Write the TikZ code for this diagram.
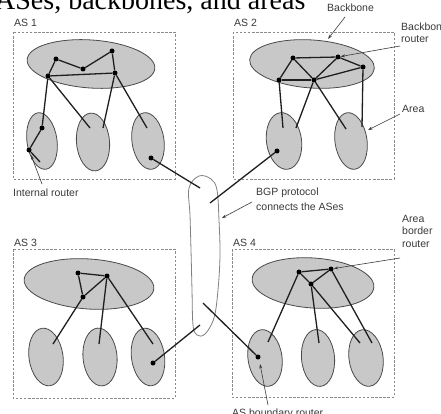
\documentclass[tikz,border=0pt]{standalone}
\usepackage{fontspec}
\setmainfont{Liberation Serif}
\setsansfont{Liberation Sans}
\usetikzlibrary{shapes.geometric,arrows.meta}
\definecolor{areagray}{HTML}{C8C8C8}
\definecolor{outl}{HTML}{4A4A4A}
\definecolor{boxgray}{HTML}{8A8A8A}
\definecolor{txtgray}{HTML}{3A3A3A}
\definecolor{cloudgray}{HTML}{808080}
\tikzset{
  asbox/.style={draw=boxgray, line width=0.7pt, dash pattern=on 2.5pt off 1.6pt},
  blob/.style={ellipse, draw=outl, fill=areagray, line width=0.8pt, inner sep=0pt},
  rtr/.style={circle, fill=black, inner sep=0pt, minimum size=5pt},
  link/.style={draw=black!88, line width=1.3pt},
  lbl/.style={font=\sffamily\fontsize{10.5}{12.5}\selectfont, text=txtgray, inner sep=0pt, align=left},
  ann/.style={draw=txtgray, line width=0.6pt, -{Stealth[length=4.5pt,width=3pt]}},
}
\begin{document}
\begin{tikzpicture}[x=1pt,y=-1pt]
\useasboundingbox (0,0) rectangle (441,414);
\clip (0,0) rectangle (441,414);
\fill[white] (0,0) rectangle (441,414);

% title (cut at top)
\node[anchor=base west, inner sep=0pt, font=\fontsize{28}{30}\selectfont] (title) at (-5,9.5) {ASes, backbones, and areas};

% ---------- BGP cloud ----------
\draw[cloudgray, fill=white, line width=0.8pt] plot[smooth cycle, tension=0.6] coordinates {
 (199,176) (211,179) (217,190) (219,220) (220,255) (218,290) (214,318) (205,334) (197,335) (193,325) (192,290) (191,250) (190,215) (189,188)};

% ---------- AS 1 ----------
\draw[asbox] (13,32) rectangle (175,179);
\node[lbl, anchor=base west] (as1) at (14,27) {AS 1};
\node[blob, minimum width=128pt, minimum height=48pt, rotate=-4] (bb1) at (91,64) {};
\node[blob, minimum width=30pt, minimum height=57pt, rotate=8] (ar11) at (42,141) {};
\node[blob, minimum width=33pt, minimum height=58pt, rotate=5] (ar12) at (93,142) {};
\node[blob, minimum width=32pt, minimum height=57pt, rotate=8] (ar13) at (148,141) {};
\node[rtr] (a1) at (56,59) {};
\node[rtr] (a2) at (112,51) {};
\node[rtr] (a3) at (83,69) {};
\node[rtr] (a4) at (48,76) {};
\node[rtr] (a5) at (115,73) {};
\node[rtr] (a6) at (42,128) {};
\node[rtr] (a7) at (29,150) {};
\node[rtr] (a8) at (151,158) {};
\coordinate (a7e) at (40,162);
\coordinate (c11) at (90,128);
\coordinate (c12) at (103,128);
\coordinate (c13) at (147,128);
\draw[link] (a1) -- (a4);
\draw[link] (a1) -- (a3);
\draw[link] (a3) -- (a2);
\draw[link] (a2) -- (a5);
\draw[link] (a4) -- (a5);
\draw[link] (a4) -- (a6);
\draw[link] (a6) -- (a7);
\draw[link] (a7) -- (a7e);
\draw[link] (a4) -- (c11);
\draw[link] (a5) -- (c12);
\draw[link] (a5) -- (c13);
\node[lbl, anchor=base west] (intr) at (13,196) {Internal router};
\coordinate (intrs) at (42,184);
\draw[ann] (intrs) -- (31,155);

% ---------- AS 2 ----------
\draw[asbox] (233,32) rectangle (394,179);
\node[lbl, anchor=base west] (as2) at (234,27) {AS 2};
\node[blob, minimum width=125pt, minimum height=48pt, rotate=-4] (bb2) at (312,64) {};
\node[blob, minimum width=35pt, minimum height=57pt, rotate=8] (ar21) at (284,141) {};
\node[blob, minimum width=32pt, minimum height=57pt, rotate=8] (ar22) at (351,141) {};
\node[rtr] (b1) at (293,58) {};
\node[rtr] (b2) at (338,57) {};
\node[rtr] (b3) at (363,67) {};
\node[rtr] (b4) at (279,80) {};
\node[rtr] (b5) at (314,80) {};
\node[rtr] (b6) at (277,151) {};
\coordinate (c21) at (283,128);
\coordinate (c22) at (296,128);
\coordinate (c23) at (346,129);
\coordinate (c24) at (362,127);
\draw[link] (b1) -- (b2);
\draw[link] (b2) -- (b3);
\draw[link] (b1) -- (b4);
\draw[link] (b1) -- (b5);
\draw[link] (b4) -- (b5);
\draw[link] (b5) -- (b2);
\draw[link] (b5) -- (b3);
\draw[link] (b4) -- (c21);
\draw[link] (b5) -- (c22);
\draw[link] (b5) -- (c23);
\draw[link] (b3) -- (c24);
\node[lbl, anchor=base west] (bbl) at (327,12) {Backbone};
\coordinate (bbls) at (345,17);
\coordinate (bblt) at (328,39);
\draw[ann] (bbls) -- (bblt);
\node[lbl, anchor=base west] (bbr) at (401,43) {Backbone\\router};
\coordinate (bbrs) at (400,46);
\draw[ann] (bbrs) -- (b2);
\node[lbl, anchor=base west] (arl) at (402,113) {Area};
\coordinate (arls) at (400,114);
\coordinate (arlt) at (368,130);
\draw[ann] (arls) -- (arlt);

% ---------- AS 3 ----------
\draw[asbox] (13,249) rectangle (175,398);
\node[lbl, anchor=base west] (as3) at (14,246) {AS 3};
\node[blob, minimum width=130pt, minimum height=50pt, rotate=-4] (bb3) at (89,284) {};
\node[blob, minimum width=34pt, minimum height=58pt, rotate=8] (ar31) at (46,357) {};
\node[blob, minimum width=34pt, minimum height=58pt, rotate=5] (ar32) at (100,357) {};
\node[blob, minimum width=33pt, minimum height=58pt, rotate=8] (ar33) at (148,357) {};
\node[rtr] (d1) at (78,273) {};
\node[rtr] (d2) at (107,276) {};
\node[rtr] (d3) at (83,297) {};
\node[rtr] (d4) at (153,363) {};
\coordinate (c31) at (53,344);
\coordinate (c32) at (99,344);
\coordinate (c33) at (153,344);
\draw[link] (d1) -- (d2);
\draw[link] (d1) -- (d3);
\draw[link] (d3) -- (d2);
\draw[link] (d3) -- (c31);
\draw[link] (d2) -- (c32);
\draw[link] (d2) -- (c33);

% ---------- AS 4 ----------
\draw[asbox] (232,249) rectangle (394,397);
\node[lbl, anchor=base west] (as4) at (233,246) {AS 4};
\node[blob, minimum width=122pt, minimum height=50pt, rotate=-4] (bb4) at (313,283) {};
\node[blob, minimum width=34pt, minimum height=57pt, rotate=8] (ar41) at (265,358) {};
\node[blob, minimum width=33pt, minimum height=57pt, rotate=5] (ar42) at (318,358) {};
\node[blob, minimum width=34pt, minimum height=57pt, rotate=8] (ar43) at (366,358) {};
\node[rtr] (e1) at (299,272) {};
\node[rtr] (e2) at (331,269) {};
\node[rtr] (e3) at (311,284) {};
\node[rtr] (e4) at (258,357) {};
\coordinate (c41) at (268,342);
\coordinate (c42) at (319,343);
\coordinate (c43) at (360,343);
\coordinate (c44) at (372,343);
\draw[link] (e1) -- (e2);
\draw[link] (e1) -- (e3);
\draw[link] (e3) -- (e2);
\draw[link] (e1) -- (c41);
\draw[link] (e3) -- (c42);
\draw[link] (e3) -- (c43);
\draw[link] (e2) -- (c44);
\node[lbl, anchor=base west] (abr) at (402,247) {Area\\border\\router};
\coordinate (abrs) at (400,258);
\draw[ann] (abrs) -- (e2);
\node[lbl, anchor=base west] (asbr) at (232,416) {AS boundary router};
\coordinate (asbrs) at (268,405);
\coordinate (asbrt) at (260,364);
\draw[ann] (asbrs) -- (asbrt);

% ---------- BGP links ----------
\coordinate (g1) at (200,188);
\coordinate (g2) at (210,203);
\coordinate (g3) at (200,325);
\coordinate (g4) at (203,303);
\draw[link] (a8) -- (g1);
\draw[link] (b6) -- (g2);
\draw[link] (d4) -- (g3);
\draw[link] (e4) -- (g4);
\node[lbl, anchor=base west] (bgp) at (256,195) {BGP protocol};
\node[lbl, anchor=base west] (bgp2) at (256,210) {connects the ASes};
\coordinate (bgps) at (252,202);
\coordinate (bgpt) at (222,218);
\draw[ann] (bgps) -- (bgpt);
\end{tikzpicture}
\end{document}
